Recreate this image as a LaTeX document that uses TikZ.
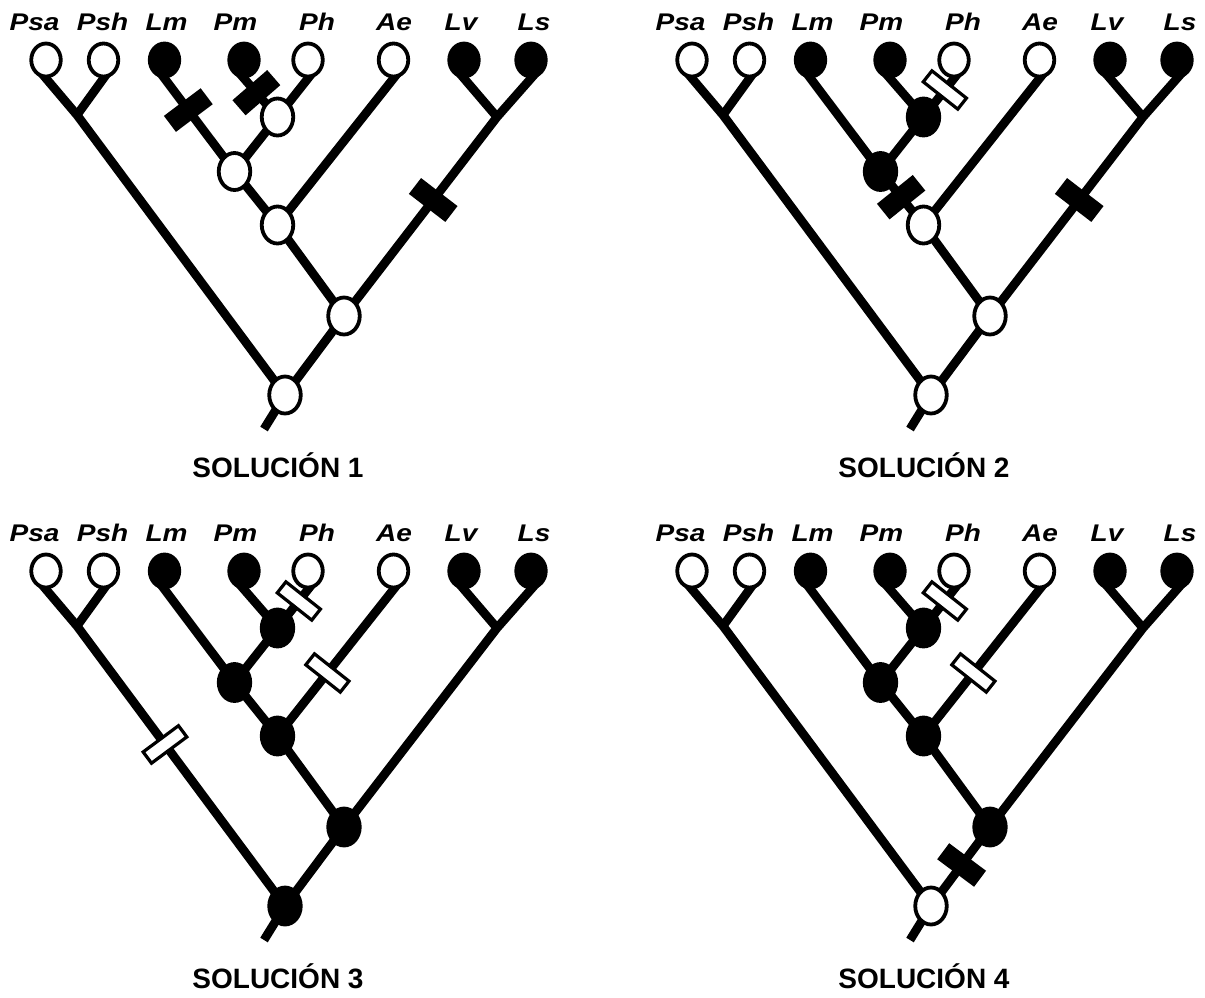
\documentclass[tikz,border=0pt]{standalone}
\usepackage{fontspec}
\setmainfont{Liberation Sans}
\usepackage{graphicx}
\usetikzlibrary{shapes.geometric,calc}
\pgfdeclarelayer{lines}
\pgfdeclarelayer{bars}
\pgfdeclarelayer{inner}
\pgfsetlayers{lines,main,bars,inner}
\tikzset{
  branch/.style={line width=8.8pt, line join=round},
  leafbranch/.style={branch, shorten <=-8pt},
  leafo/.style={ellipse, draw=black, line width=3.8pt, fill=white, minimum width=29.5pt, minimum height=33pt, inner sep=0pt},
  leaff/.style={leafo, fill=black},
  inno/.style={ellipse, draw=black, line width=3.8pt, fill=white, minimum width=31.5pt, minimum height=37pt, inner sep=0pt},
  innf/.style={inno, fill=black},
  blackbar/.style={rectangle, fill=black, draw=none, minimum width=20pt, minimum height=46pt, inner sep=0pt, sloped},
  whitebar/.style={rectangle, fill=white, draw=black, line width=3.2pt, minimum width=14pt, minimum height=44pt, inner sep=0pt, sloped},
  taxon/.style={anchor=base, inner sep=0pt, font=\fontsize{28}{28}\selectfont\bfseries\itshape},
  soltitle/.style={anchor=base, inner sep=0pt, font=\fontsize{28}{28}\selectfont\bfseries},
}
\newcommand{\taxlab}[1]{\scalebox{1}[0.86]{#1}}
% #1 prefix, #2 dx, #3 dy, #4..#8 styles of n1,n2,n3,n4,root, #9 number
\newcommand{\clado}[9]{%
  \begin{scope}[shift={(#2,#3)}]
    % taxon labels
    \node[taxon] (#1-tpsa) at (34.5,30.7) {\taxlab{Psa}};
    \node[taxon] (#1-tpsh) at (102.5,30.7) {\taxlab{Psh}};
    \node[taxon] (#1-tlm) at (166.5,30.7) {\taxlab{Lm}};
    \node[taxon] (#1-tpm) at (235.5,30.7) {\taxlab{Pm}};
    \node[taxon] (#1-tph) at (317,30.7) {\taxlab{Ph}};
    \node[taxon] (#1-tae) at (394,30.7) {\taxlab{Ae}};
    \node[taxon] (#1-tlv) at (461,30.7) {\taxlab{Lv}};
    \node[taxon] (#1-tls) at (534,30.7) {\taxlab{Ls}};
    % leaves
    \node[leafo] (#1-psa) at (46,60) {};
    \node[leafo] (#1-psh) at (103.5,60) {};
    \node[leaff] (#1-lm) at (164.5,60) {};
    \node[leaff] (#1-pm) at (244,60) {};
    \node[leafo] (#1-ph) at (308,60) {};
    \node[leafo] (#1-ae) at (393.5,60) {};
    \node[leaff] (#1-lv) at (464,60) {};
    \node[leaff] (#1-ls) at (531,60) {};
    % junctions and stem end
    \coordinate (#1-j1) at (77,115);
    \coordinate (#1-j2) at (497,117);
    \coordinate (#1-s) at (264,429);
    % inner nodes
    \begin{pgfonlayer}{inner}
      \node[#4] (#1-n1) at (277.5,117) {};
      \node[#5] (#1-n2) at (234.5,171.5) {};
      \node[#6] (#1-n3) at (277.5,225) {};
      \node[#7] (#1-n4) at (344,316) {};
      \node[#8] (#1-r) at (285,395) {};
    \end{pgfonlayer}
    % branches
    \begin{pgfonlayer}{lines}
      \draw[leafbranch] (#1-psa.south) -- (#1-j1) -- (#1-r.center);
      \draw[leafbranch] (#1-psh.south) -- (#1-j1);
      \draw[leafbranch] (#1-lm.south) -- (#1-n2.center);
      \draw[leafbranch] (#1-pm.south) -- (#1-n1.center);
      \draw[leafbranch] (#1-ph.south) -- (#1-n1.center);
      \draw[branch] (#1-n1.center) -- (#1-n2.center) -- (#1-n3.center) -- (#1-n4.center) -- (#1-r.center);
      \draw[leafbranch] (#1-ae.south) -- (#1-n3.center);
      \draw[leafbranch] (#1-lv.south) -- (#1-j2);
      \draw[leafbranch] (#1-ls.south) -- (#1-j2) -- (#1-n4.center);
      \draw[branch] (#1-r.center) -- (#1-s);
    \end{pgfonlayer}
    \node[soltitle] (#1-title) at (278,477.5) {SOLUCIÓN #9};
  \end{scope}}

\begin{document}
\begin{tikzpicture}[x=1pt,y=-1pt]
  \useasboundingbox (0,0) rectangle (1205,997);
  \clado{pa}{0}{0}{inno}{inno}{inno}{inno}{inno}{1}
  \clado{pb}{646}{0}{innf}{innf}{inno}{inno}{inno}{2}
  \clado{pc}{0}{511}{innf}{innf}{innf}{innf}{innf}{3}
  \clado{pd}{646}{511}{innf}{innf}{innf}{innf}{inno}{4}
  \begin{pgfonlayer}{bars}
    % solucion 1
    \path (pa-lm.south) -- node[blackbar, pos=0.34] (pa-bar1) {} (pa-n2.center);
    \path (pa-pm.south) -- node[blackbar, pos=0.37] (pa-bar2) {} (pa-n1.center);
    \path (pa-j2) -- node[blackbar, pos=0.417] (pa-bar3) {} (pa-n4.center);
    % solucion 2
    \path (pb-ph.south) -- node[whitebar, pos=0.30] (pb-bar1) {} (pb-n1.center);
    \path (pb-n2.center) -- node[blackbar, pos=0.48] (pb-bar2) {} (pb-n3.center);
    \path (pb-j2) -- node[blackbar, pos=0.417] (pb-bar3) {} (pb-n4.center);
    % solucion 3
    \path (pc-ph.south) -- node[whitebar, pos=0.30] (pc-bar1) {} (pc-n1.center);
    \path (pc-ae.south) -- node[whitebar, pos=0.57] (pc-bar2) {} (pc-n3.center);
    \path (pc-j1) -- node[whitebar, pos=0.423] (pc-bar3) {} (pc-r.center);
    % solucion 4
    \path (pd-ph.south) -- node[whitebar, pos=0.30] (pd-bar1) {} (pd-n1.center);
    \path (pd-ae.south) -- node[whitebar, pos=0.57] (pd-bar2) {} (pd-n3.center);
    \path (pd-r.center) -- node[blackbar, pos=0.519] (pd-bar3) {} (pd-n4.center);
  \end{pgfonlayer}
\end{tikzpicture}
\end{document}
